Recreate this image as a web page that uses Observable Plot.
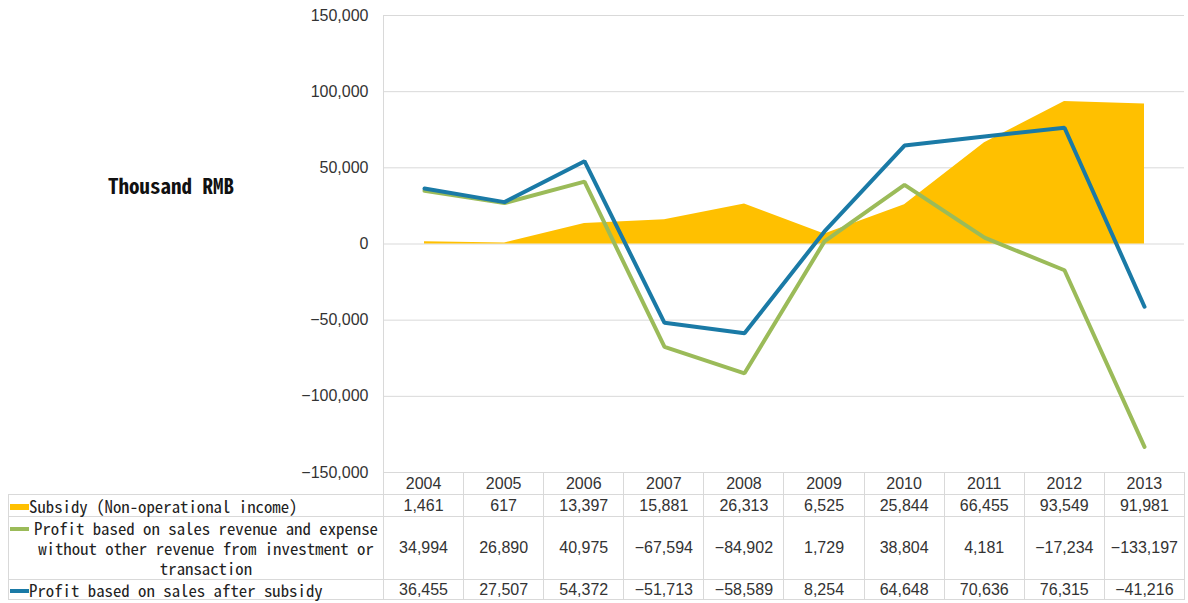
<!DOCTYPE html>
<html>
<head>
<meta charset="utf-8">
<script src="https://cdn.jsdelivr.net/npm/d3@7"></script>
<script src="https://cdn.jsdelivr.net/npm/@observablehq/plot@0.6"></script>
<style>
  html, body { margin: 0; padding: 0; background: #fff; }
  #wrap { position: relative; width: 1188px; height: 603px; overflow: hidden; background: #fff; }
  #chart { position: absolute; left: 0; top: 0; z-index: 2; }
  #unit { position: absolute; left: 108px; top: 172px; font-family: "Noto Sans Mono CJK SC", "Liberation Mono", monospace; font-weight: bold; font-size: 21px; line-height: 26px; color: #111; white-space: nowrap; }
  table.dt { position: absolute; left: 8px; top: 472px; border-collapse: collapse; table-layout: fixed; width: 1176px; z-index: 1; background: transparent; }
  table.dt td { border: 1px solid #d9d9d9; padding: 0; text-align: center; vertical-align: middle; font-family: "Liberation Sans", Arial, sans-serif; font-size: 16px; line-height: 18px; color: #333; white-space: nowrap; }
  table.dt td.lab { font-family: "Noto Sans Mono CJK SC", "Liberation Mono", monospace; font-size: 16.8px; line-height: 18px; color: #222; text-align: left; }
  table.dt tr.head td.blank { border: none; border-right: 1px solid #d9d9d9; }
  .key { display: inline-block; width: 19px; vertical-align: middle; margin-left: 1px; margin-right: 0; position: relative; top: -1px; }
  .labrow { display: flex; align-items: flex-start; }
  .labtext { flex: 1; text-align: center; line-height: 20px; }
</style>
</head>
<body>
<div id="wrap">
  <div id="chart"></div>
  <div id="unit">Thousand RMB</div>
</div>
<script>
// ---- data ----
const years = ["2004", "2005", "2006", "2007", "2008", "2009", "2010", "2011", "2012", "2013"];
const subsidy = [1461, 617, 13397, 15881, 26313, 6525, 25844, 66455, 93549, 91981];
const profitExcl = [34994, 26890, 40975, -67594, -84902, 1729, 38804, 4181, -17234, -133197];
const profitAfter = [36455, 27507, 54372, -51713, -58589, 8254, 64648, 70636, 76315, -41216];
const yTicks = [-150000, -100000, -50000, 0, 50000, 100000, 150000];
const seriesNames = [
  "Subsidy (Non-operational income)",
  "Profit based on sales revenue and expense without other revenue from investment or transaction",
  "Profit based on sales after subsidy"
];
const labelLines = [
  ["Subsidy (Non-operational income)"],
  ["Profit based on sales revenue and expense", "without other revenue from investment or", "transaction"],
  ["Profit based on sales after subsidy"]
];
const colors = ["#FFC000", "#9BBB59", "#1A7AA6"];

const rows = years.map((year, i) => ({year, subsidy: subsidy[i], profitExcl: profitExcl[i], profitAfter: profitAfter[i]}));
const fmt = d3.format(",");

const plot = Plot.plot({
  width: 1188,
  height: 482,
  marginLeft: 383,
  marginRight: 4,
  marginTop: 15,
  marginBottom: 10,
  style: {fontFamily: "'Liberation Sans', Arial, sans-serif", color: "#333", background: "transparent"},
  x: {type: "point", domain: years, padding: 0.5, axis: null},
  y: {domain: [-150000, 150000], axis: null},
  marks: [
    Plot.gridY(yTicks, {stroke: "#d9d9d9", strokeOpacity: 1, strokeWidth: 1}),
    Plot.axisY(yTicks, {tickSize: 0, tickPadding: 15, fontSize: 16, tickFormat: fmt, label: null}),
    Plot.frame({anchor: "left", stroke: "#d9d9d9"}),
    Plot.areaY(rows, {x: "year", y: "subsidy", fill: colors[0]}),
    Plot.lineY(rows, {x: "year", y: "profitExcl", stroke: colors[1], strokeWidth: 4, strokeLinejoin: "miter"}),
    Plot.lineY(rows, {x: "year", y: "profitAfter", stroke: colors[2], strokeWidth: 4, strokeLinejoin: "miter"})
  ]
});
document.getElementById("chart").appendChild(plot);

// ---- data table below the chart ----
const table = document.createElement("table");
table.className = "dt";
const colgroup = document.createElement("colgroup");
const c0 = document.createElement("col"); c0.style.width = "375px"; colgroup.appendChild(c0);
years.forEach(() => { const c = document.createElement("col"); c.style.width = "80.1px"; colgroup.appendChild(c); });
table.appendChild(colgroup);

const head = document.createElement("tr");
head.className = "head";
head.style.height = "22px";
const blank = document.createElement("td"); blank.className = "blank"; head.appendChild(blank);
years.forEach(y => { const td = document.createElement("td"); td.textContent = y; head.appendChild(td); });
table.appendChild(head);

const series = [subsidy, profitExcl, profitAfter];
const rowHeights = [22, 63, 20];
const keyHeights = [6, 3.5, 3.5];
series.forEach((vals, s) => {
  const tr = document.createElement("tr");
  tr.style.height = rowHeights[s] + "px";
  const lab = document.createElement("td");
  lab.className = "lab";
  lab.title = seriesNames[s];
  const key = document.createElement("span");
  key.className = "key";
  key.style.height = keyHeights[s] + "px";
  key.style.background = colors[s];
  if (labelLines[s].length > 1) {
    const wrap = document.createElement("div");
    wrap.className = "labrow";
    key.style.marginTop = "9px";
    key.style.top = "0px";
    wrap.appendChild(key);
    const txt = document.createElement("div");
    txt.className = "labtext";
    labelLines[s].forEach(l => { const d = document.createElement("div"); d.textContent = l; txt.appendChild(d); });
    wrap.appendChild(txt);
    lab.appendChild(wrap);
  } else {
    lab.appendChild(key);
    lab.appendChild(document.createTextNode(labelLines[s][0]));
  }
  tr.appendChild(lab);
  vals.forEach(v => { const td = document.createElement("td"); td.textContent = fmt(v); tr.appendChild(td); });
  table.appendChild(tr);
});
document.getElementById("wrap").appendChild(table);
</script>
</body>
</html>
